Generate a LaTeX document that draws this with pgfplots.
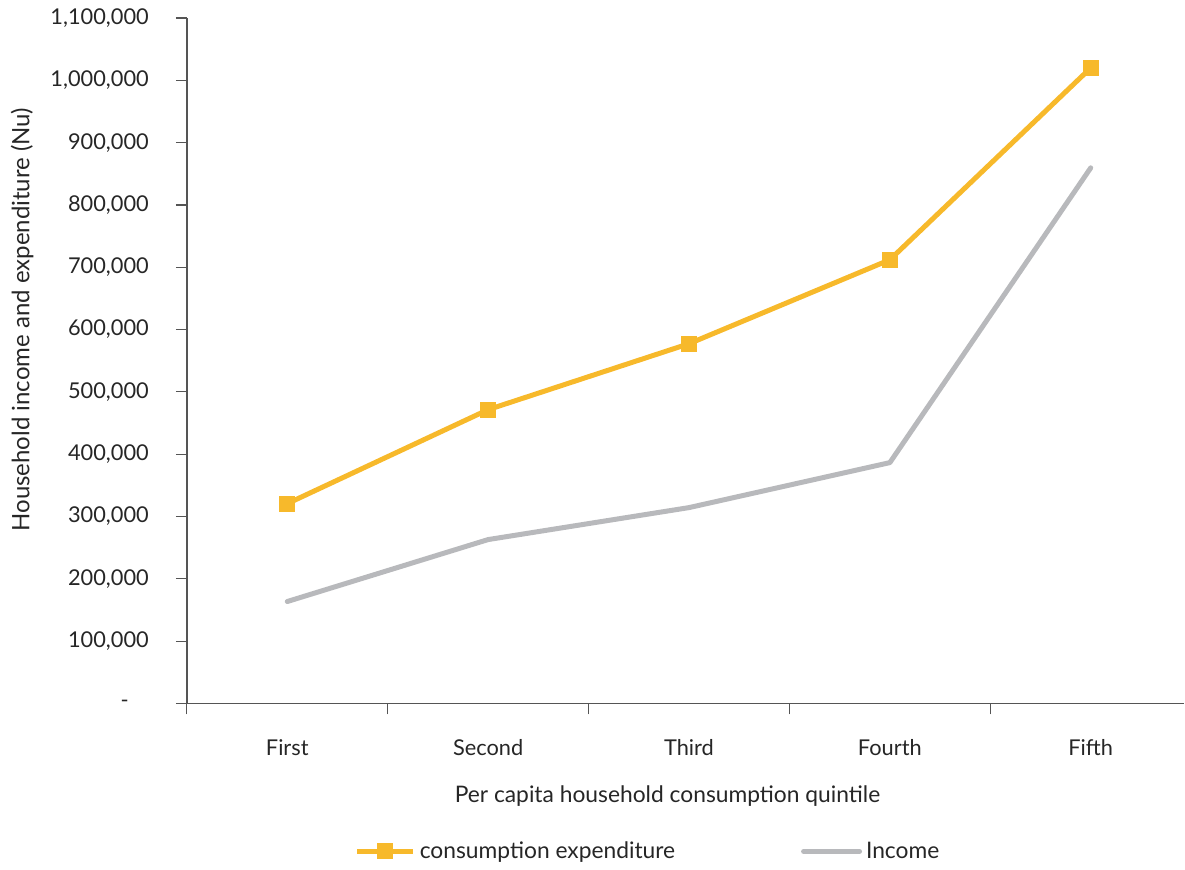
\documentclass[border=0pt]{standalone}
\usepackage{pgfplots}
\pgfplotsset{compat=1.18}
\usepackage{fontspec}
\setmainfont{Lato}
\definecolor{cons}{HTML}{F7B92B}
\definecolor{inc}{HTML}{B8B9BC}
\definecolor{axc}{HTML}{555555}
\begin{document}
\begin{tikzpicture}
\begin{axis}[
  name=ax,
  scale only axis,
  width=499pt, height=343pt,
  xmin=0, xmax=4.965,
  ymin=0, ymax=1100000,
  axis lines*=left,
  axis line style={axc, line width=0.9pt, -},
  tick align=outside,
  xtick={0.5,1.5,2.5,3.5,4.5},
  xticklabels={First,Second,Third,Fourth,Fifth},
  major x tick style={draw=none},
  minor xtick={0,1,2,3,4},
  minor tick length=5.5pt,
  minor x tick style={axc, line width=0.6pt},
  major tick length=5.5pt,
  ytick={0,100000,200000,300000,400000,500000,600000,700000,800000,900000,1000000,1100000},
  yticklabels={{-\hspace*{10pt}},{100,000},{200,000},{300,000},{400,000},{500,000},{600,000},{700,000},{800,000},{900,000},{1,000,000},{1,100,000}},
  y tick style={axc, line width=0.6pt},
  scaled y ticks=false,
  tick label style={font=\fontsize{10.9pt}{12pt}\selectfont, text=black!85},
  xticklabel style={yshift=-9pt},
  yticklabel style={xshift=-10pt},
  /pgf/number format/assume math mode=true,
  xlabel={Per capita household consumption quintile},
  xlabel style={font=\fontsize{11.4pt}{13pt}\selectfont, text=black!85, at={(rel axis cs:0.482,0)}, anchor=center, yshift=-46.5pt},
  ylabel={Household income and expenditure (Nu)},
  ylabel style={font=\fontsize{12pt}{14pt}\selectfont, text=black!85, at={(rel axis cs:-0.1653,0.56)}, anchor=center, rotate=0},
  legend style={draw=none, fill=none, font=\fontsize{11.4pt}{13pt}\selectfont, text=black!85, legend columns=2,
    at={(rel axis cs:0.162,0)}, anchor=west, yshift=-74pt,
    /tikz/every even column/.append style={column sep=61pt}},
  legend image code/.code={\draw[#1] (0pt,0pt) -- (28pt,0pt); \draw[#1, only marks] plot coordinates {(14pt,0pt)};},
  legend cell align=left,
  clip=false,
]
\addplot[cons, line width=2.5pt, mark=square*, mark size=3.8pt, mark options={solid, line width=0pt}] coordinates {
  (0.5,320700) (1.5,471500) (2.5,577300) (3.5,712000) (4.5,1019900)};
\addlegendentry{consumption expenditure}
\addplot[inc, line width=2.5pt, line cap=round, line join=round, mark=none] coordinates {
  (0.5,163600) (1.5,263000) (2.5,314300) (3.5,386500) (4.5,859500)};
\addlegendentry{Income}
\coordinate (O) at (rel axis cs:0,0);
\end{axis}
\path[use as bounding box] ([shift={(-93.5pt,-79.5pt)}]O) rectangle ++(592.5pt,431.5pt);
\end{tikzpicture}
\end{document}
